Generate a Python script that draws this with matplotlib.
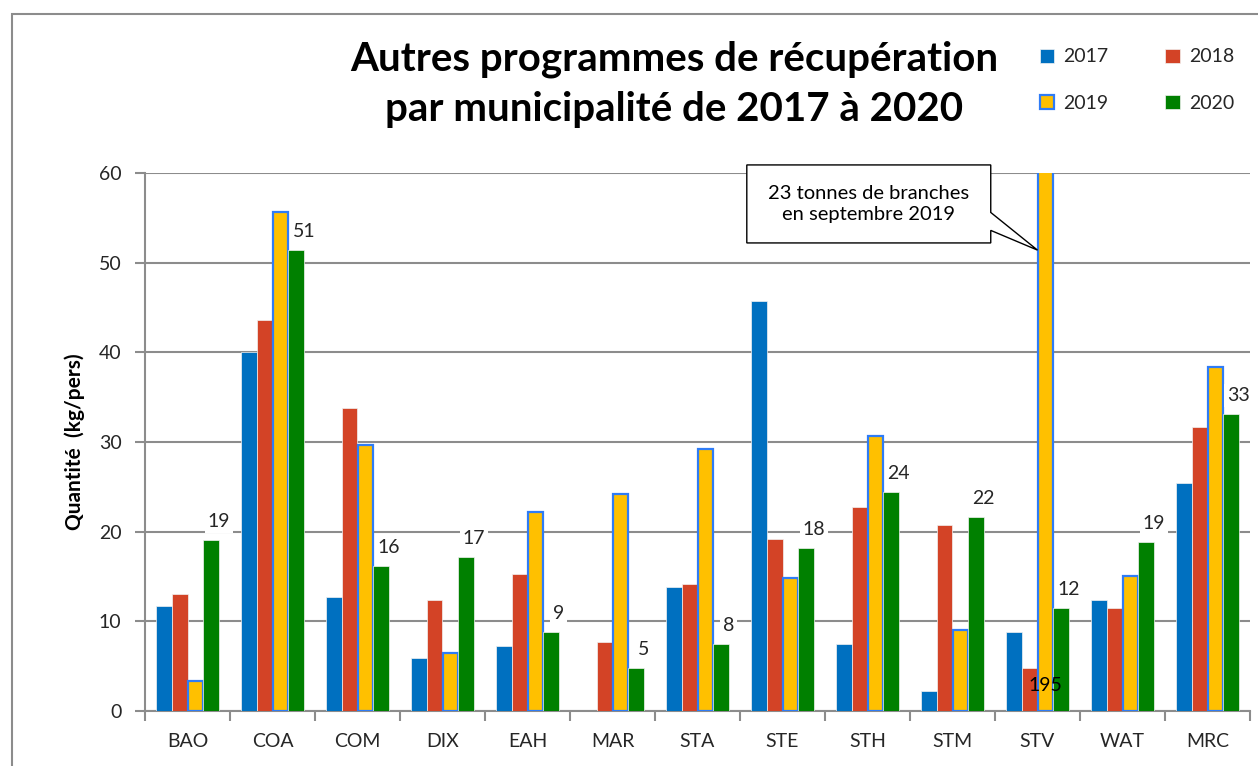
#!/usr/bin/env python
import matplotlib
matplotlib.use('Agg')
import matplotlib.pyplot as plt
import numpy as np
from matplotlib.patches import Rectangle, Polygon

plt.rcParams['font.family'] = ['Lato', 'DejaVu Sans']

# data (kg/pers)
towns = ['BAO', 'COA', 'COM', 'DIX', 'EAH', 'MAR', 'STA', 'STE', 'STH', 'STM', 'STV', 'WAT', 'MRC']
years = ['2017', '2018', '2019', '2020']
v2017 = [11.7, 40.0, 12.7, 5.9, 7.2, 0, 13.8, 45.7, 7.5, 2.2, 8.8, 12.4, 25.4]
v2018 = [13.0, 43.6, 33.8, 12.4, 15.3, 7.7, 14.2, 19.2, 22.7, 20.7, 4.8, 11.5, 31.7]
v2019 = [3.4, 55.6, 29.7, 6.5, 22.2, 24.2, 29.2, 14.8, 30.7, 9.0, 195, 15.1, 38.4]
v2020 = [19.1, 51.4, 16.2, 17.2, 8.8, 4.8, 7.5, 18.2, 24.4, 21.6, 11.5, 18.8, 33.1]
lbl2020 = ['19', '51', '16', '17', '9', '5', '8', '18', '24', '22', '12', '19', '33']
note = '23 tonnes de branches\nen septembre 2019'

colors = ['#0070C0', '#D34326', '#FFC000', '#008000']
edge2019 = '#2F7CF6'
grid_c = '#8C8C8C'
txt_c = '#262626'

fig = plt.figure(figsize=(12.58, 7.66), dpi=100)
# outer chart frame (cropped on right/bottom)
fig.patches.append(Rectangle((12 / 1258, -0.05), 1.1, 1 - 14 / 766 + 0.05, transform=fig.transFigure,
                             fill=False, ec=grid_c, lw=1.5, zorder=0))

ax = fig.add_axes([145 / 1258, 1 - 711 / 766, 1105 / 1258, 538 / 766])

x = np.arange(len(towns))
w = 0.1825
series = [v2017, v2018, v2019, v2020]
bars = []
for j in range(4):
    if j == 2:
        b = ax.bar(x + (j - 1.5) * w, series[j], w, color=colors[j], edgecolor=edge2019, linewidth=1.6, zorder=3,
                   label=years[j])
    else:
        b = ax.bar(x + (j - 1.5) * w, series[j], w, color=colors[j], edgecolor='#F2F2F2', linewidth=0.5, zorder=3,
                   label=years[j])
    bars.append(b)

ax.set_ylim(0, 60)
ax.set_xlim(-0.5, len(towns) - 0.5)
ax.set_yticks(range(0, 61, 10))
ax.set_xticks(x)
ax.set_xticklabels(towns)
ax.set_xticks(np.arange(-0.5, len(towns), 1), minor=True)
ax.tick_params(axis='x', which='major', length=0, pad=16, labelsize=14, labelcolor=txt_c)
ax.tick_params(axis='x', which='minor', length=7, width=1.5, color=grid_c, direction='out')
ax.tick_params(axis='y', length=7, width=1.5, color=grid_c, pad=10, labelsize=14, labelcolor=txt_c)
ax.grid(axis='y', color=grid_c, linewidth=1.5, zorder=0)
ax.set_axisbelow(True)
for s in ['top', 'right']:
    ax.spines[s].set_visible(False)
for s in ['left', 'bottom']:
    ax.spines[s].set_color(grid_c)
    ax.spines[s].set_linewidth(1.5)

ax.set_ylabel('Quantité  (kg/pers)', fontsize=15, fontweight='bold', labelpad=10, color='black')

# value labels on 2020 bars
for i in range(len(towns)):
    ax.annotate(lbl2020[i], (x[i] + 1.5 * w, v2020[i]), xytext=(8, 10), textcoords='offset pixels',
                ha='center', va='bottom', fontsize=14, color=txt_c, zorder=5,
                bbox=dict(boxstyle='square,pad=0.15', fc='white', ec='none'))

# STV 2019 value (off scale)
stv = towns.index('STV')
ax.text(x[stv] + 0.5 * w, 2.8, '%d' % v2019[stv], ha='center', va='center', fontsize=14, color='black', zorder=5)

# callout box pointing to STV 2019 bar
tip_x = x[stv] + 0.5 * w - w / 2
bx0, bx1 = 6.58, 9.45
by0, by1 = 52.2, 60.9
callout = Polygon([(bx0, by0), (bx0, by1), (bx1, by1), (bx1, 55.6), (tip_x, 51.4), (bx1, 53.6), (bx1, by0)],
                  closed=True, fc='white', ec='black', lw=1.0, zorder=6, clip_on=False)
ax.add_patch(callout)
ax.text((bx0 + bx1) / 2, (by0 + by1) / 2, note, ha='center', va='center', fontsize=14.5, color='black',
        zorder=7, linespacing=1.25)

fig.text(674 / 1258, 1 - 84 / 766, 'Autres programmes de récupération\npar municipalité de 2017 à 2020',
         ha='center', va='center', fontsize=29, fontweight='bold', linespacing=1.42)

handles = [bars[0], bars[2], bars[1], bars[3]]
labels = [years[0], years[2], years[1], years[3]]
fig.legend(handles, labels, ncol=2, loc='upper left', bbox_to_anchor=(1022 / 1258, 1 - 31 / 766),
           frameon=False, fontsize=14, handlelength=0.75, handleheight=0.75, handletextpad=0.45,
           columnspacing=2.95, labelspacing=1.5, labelcolor=txt_c)

plt.savefig('out.png', dpi=100)
